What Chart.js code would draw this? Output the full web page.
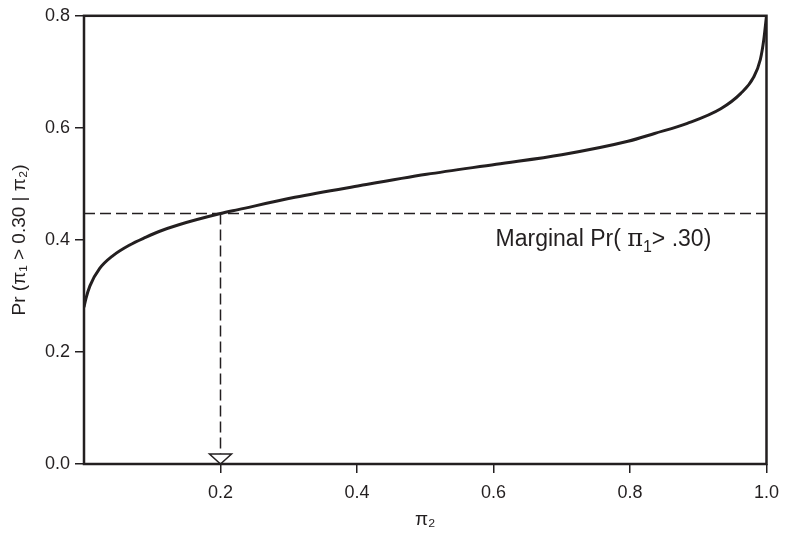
<!DOCTYPE html>
<html>
<head>
<meta charset="utf-8">
<script src="https://cdn.jsdelivr.net/npm/chart.js@4.4.1/dist/chart.umd.min.js"></script>
<style>
  html, body { margin: 0; padding: 0; background: #fff; }
  #wrap { width: 788px; height: 534px; }
</style>
</head>
<body>
<div id="wrap"><canvas id="chart" width="788" height="534"></canvas></div>
<script>
// curve
const pi2Values = [0, 0.003, 0.0087, 0.023, 0.0425, 0.067, 0.091, 0.110, 0.139, 0.2, 0.226, 0.309, 0.405, 0.502, 0.604, 0.700, 0.797, 0.836, 0.884, 0.933, 0.962, 0.981, 0.991, 0.996, 1.0];
const prValues = [0.28, 0.296, 0.318, 0.349, 0.372, 0.391, 0.405, 0.415, 0.427, 0.447, 0.454, 0.476, 0.497, 0.517, 0.535, 0.552, 0.576, 0.590, 0.608, 0.634, 0.661, 0.690, 0.722, 0.757, 0.80];

const xTicks = [0.2, 0.4, 0.6, 0.8, 1.0];
const yTicks = [0.0, 0.2, 0.4, 0.6, 0.8];

const marginalPr = 0.447;
const markerPi2 = 0.2;

const INK = '#231f20';
const FONT = "'Liberation Sans', Arial, Helvetica, sans-serif";

const curve = pi2Values.map((x, i) => ({x: x, y: prValues[i]}));

const framePlugin = {
  id: 'frame',
  afterDatasetsDraw(chart) {
    const {ctx, chartArea: a, scales} = chart;
    ctx.save();
    // arrow head at the bottom of the dropped line
    const px = scales.x.getPixelForValue(markerPi2);
    const py = scales.y.getPixelForValue(0);
    ctx.beginPath();
    ctx.moveTo(px - 11, py - 10);
    ctx.lineTo(px + 11, py - 10);
    ctx.lineTo(px, py);
    ctx.closePath();
    ctx.fillStyle = '#fff';
    ctx.fill();
    ctx.lineWidth = 1.5;
    ctx.strokeStyle = INK;
    ctx.stroke();
    // annotation text
    ctx.fillStyle = INK;
    ctx.textBaseline = 'alphabetic';
    let tx = scales.x.getPixelForValue(0.603);
    const ty = scales.y.getPixelForValue(0.39);
    ctx.font = '23px ' + FONT;
    const parts = ['Marginal Pr( ', 'π', '1', '> .30)'];
    ctx.fillText(parts[0], tx, ty); tx += ctx.measureText(parts[0]).width;
    ctx.font = "24px 'DejaVu Serif', serif";
    ctx.fillText(parts[1], tx, ty); tx += ctx.measureText(parts[1]).width;
    ctx.font = '16px ' + FONT;
    ctx.fillText(parts[2], tx, ty + 6); tx += ctx.measureText(parts[2]).width;
    ctx.font = '23px ' + FONT;
    ctx.fillText(parts[3], tx, ty);
    // box
    ctx.lineWidth = 2.5;
    ctx.strokeRect(a.left, a.top, a.right - a.left, a.bottom - a.top);
    ctx.restore();
  }
};

new Chart(document.getElementById('chart').getContext('2d'), {
  type: 'line',
  data: {
    datasets: [
      {
        data: curve,
        borderColor: INK,
        borderWidth: 3,
        pointRadius: 0,
        cubicInterpolationMode: 'monotone'
      },
      {
        data: [{x: 0, y: marginalPr}, {x: 1, y: marginalPr}],
        borderColor: INK,
        borderWidth: 1.5,
        borderDash: [11, 5],
        pointRadius: 0
      },
      {
        data: [{x: markerPi2, y: marginalPr}, {x: markerPi2, y: 0}],
        borderColor: INK,
        borderWidth: 1.5,
        borderDash: [11, 5],
        pointRadius: 0
      }
    ]
  },
  options: {
    responsive: false,
    animation: false,
    layout: {padding: {top: 9, right: 16, left: 0, bottom: 0}},
    plugins: {legend: {display: false}, tooltip: {enabled: false}},
    scales: {
      x: {
        type: 'linear',
        min: 0,
        max: 1,
        afterBuildTicks: s => { s.ticks = xTicks.map(v => ({value: v})); },
        afterFit: s => { s.height = 70; },
        border: {display: false},
        grid: {drawOnChartArea: false, drawTicks: true, tickLength: 9, color: INK, lineWidth: 1.5},
        ticks: {
          color: INK, padding: 9,
          font: {family: FONT, size: 18},
          callback: v => v.toFixed(1)
        },
        title: {
          display: true, text: 'π₂', color: INK,
          font: {family: FONT, size: 19}, padding: {top: 0, bottom: 3}
        }
      },
      y: {
        type: 'linear',
        min: 0,
        max: 0.8,
        afterBuildTicks: s => { s.ticks = yTicks.map(v => ({value: v})); },
        afterFit: s => { s.width = 84; },
        border: {display: false},
        grid: {drawOnChartArea: false, drawTicks: true, tickLength: 9, color: INK, lineWidth: 1.5},
        ticks: {
          color: INK, padding: 5,
          font: {family: FONT, size: 18},
          callback: v => v.toFixed(1)
        },
        title: {
          display: true, text: 'Pr (π₁ > 0.30 | π₂)', color: INK,
          font: {family: FONT, size: 19}, padding: {top: 8, bottom: 0}
        }
      }
    }
  },
  plugins: [framePlugin]
});
</script>
</body>
</html>
